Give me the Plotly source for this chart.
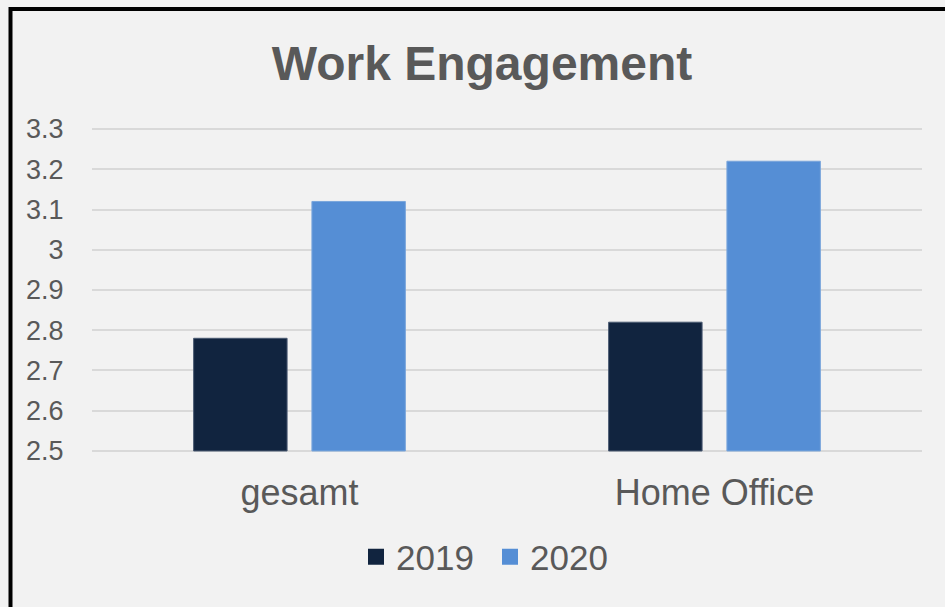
import plotly.graph_objects as go

categories = ["gesamt", "Home Office"]
series_names = ["2019", "2020"]
values_2019 = [2.78, 2.82]
values_2020 = [3.12, 3.22]
y_ticks = [2.5, 2.6, 2.7, 2.8, 2.9, 3.0, 3.1, 3.2, 3.3]
y_tick_labels = ["2.5", "2.6", "2.7", "2.8", "2.9", "3", "3.1", "3.2", "3.3"]
y_range = [2.49, 3.31]
y_base = 2.5

colors = ["#11243f", "#558ed5"]
line_colors = ["#4a5a72", "#7aa6dc"]

W, H = 945, 607
L, R, T, B = 92, 23, 125, 152
pw, ph = W - L - R, H - T - B

def px_x(px):
    return (px - L) / pw

def px_y(py):
    return (H - B - py) / ph

font_family = "Liberation Sans, Arial, sans-serif"
text_color = "#595959"

fig = go.Figure()
for name, vals, c, lc in zip(series_names, [values_2019, values_2020], colors, line_colors):
    fig.add_trace(go.Bar(
        x=categories, y=[v - y_base for v in vals], base=y_base, name=name,
        customdata=vals, hovertemplate="%{x}: %{customdata}<extra>" + name + "</extra>",
        marker=dict(color=c, line=dict(color=lc, width=1)),
        showlegend=False,
    ))
# legend entries with larger square swatches
for name, c in zip(series_names, colors):
    fig.add_trace(go.Scatter(
        x=[None], y=[None], mode="markers", name=name,
        marker=dict(symbol="square", size=21, color=c),
        showlegend=True,
    ))

fig.update_layout(
    width=W, height=H,
    margin=dict(l=L, r=R, t=T, b=B, autoexpand=False),
    paper_bgcolor="#f2f2f2",
    plot_bgcolor="#f2f2f2",
    barmode="group",
    bargap=0.43,
    bargroupgap=0.21,
    font=dict(family=font_family, color=text_color),
    title=dict(
        text="<b>Work Engagement</b>",
        x=px_x(482), xref="paper", xanchor="center",
        y=1 - 63 / H, yref="container", yanchor="middle",
        font=dict(size=48, color=text_color, family=font_family),
    ),
    showlegend=True,
    legend=dict(
        orientation="h",
        x=px_x(490), xanchor="center",
        y=px_y(557), yanchor="middle",
        font=dict(size=35, color=text_color),
        bgcolor="rgba(0,0,0,0)",
        itemwidth=30,
        entrywidth=89,
        tracegroupgap=0,
    ),
    shapes=[
        dict(
            type="path", xref="paper", yref="paper",
            path=f"M {px_x(10.5)},{px_y(640)} L {px_x(10.5)},{px_y(9)} L {px_x(980)},{px_y(9)}",
            line=dict(color="#000000", width=4),
            layer="above",
        )
    ],
)

fig.update_xaxes(
    showgrid=False, showline=False, zeroline=False,
    ticks="outside", ticklen=6, tickcolor="rgba(0,0,0,0)",
    tickfont=dict(size=36, color=text_color),
)
fig.update_yaxes(
    range=y_range,
    tickvals=y_ticks, ticktext=y_tick_labels,
    showgrid=True, gridcolor="#d9d9d9", gridwidth=1.5,
    zeroline=False, showline=False,
    ticks="outside", ticklen=22, tickcolor="rgba(0,0,0,0)",
    tickfont=dict(size=27, color=text_color),
)

fig.write_html(
    "out.html",
    config={"displayModeBar": False},
    post_script="document.body.style.margin='0';document.body.style.background='#f2f2f2';",
)
